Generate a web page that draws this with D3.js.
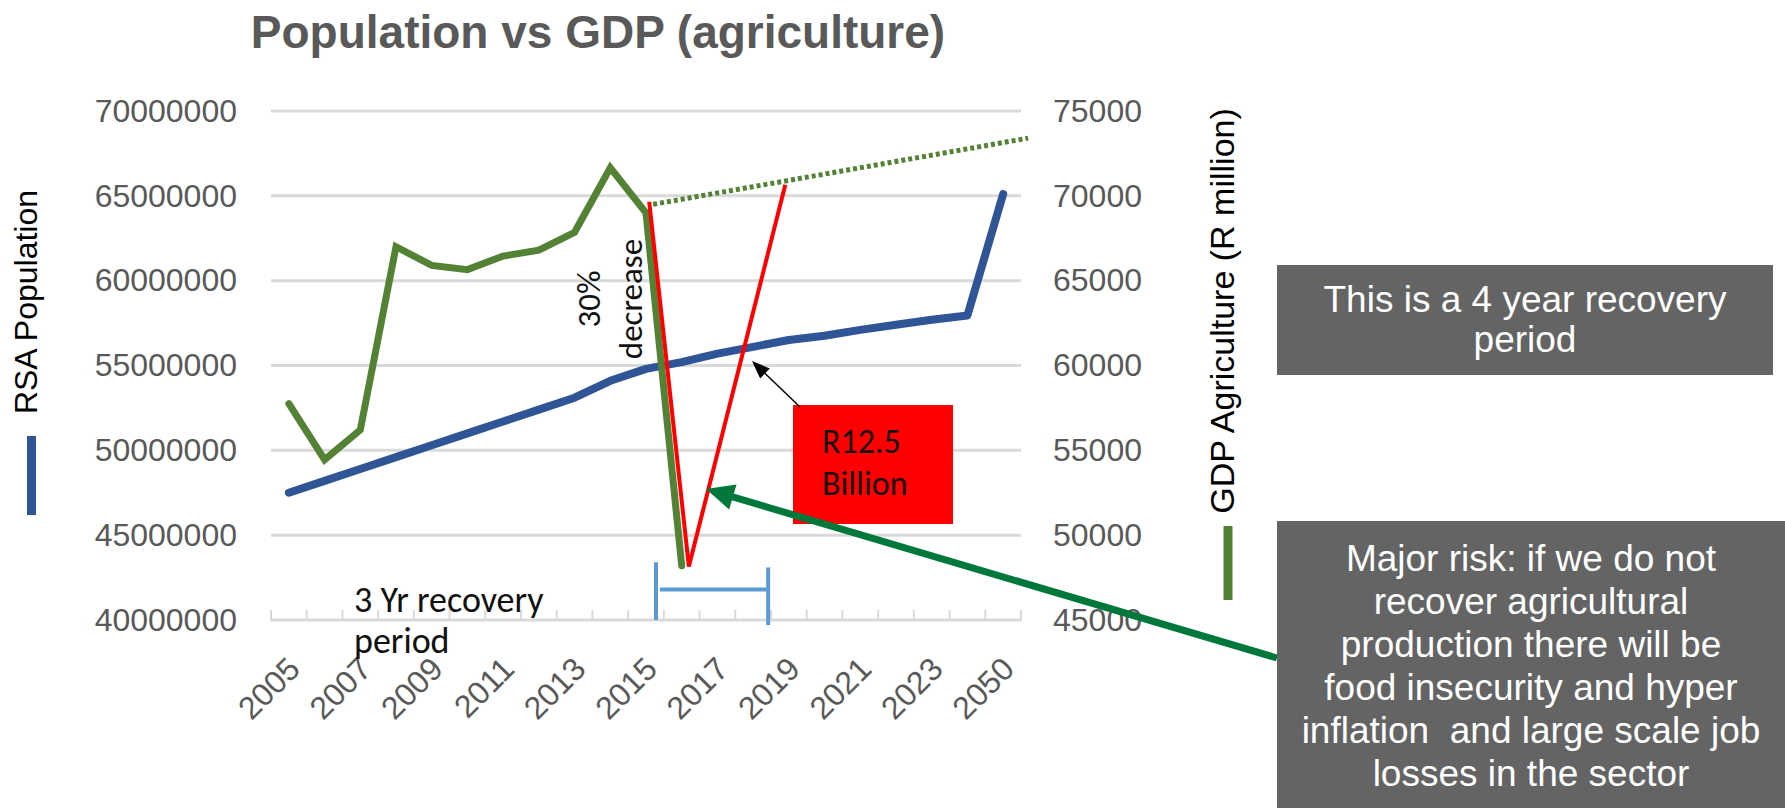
<!DOCTYPE html>
<html>
<head>
<meta charset="utf-8">
<script src="https://cdn.jsdelivr.net/npm/d3@7"></script>
<style>
  html, body { margin: 0; padding: 0; background: #ffffff; }
  svg { display: block; }
</style>
</head>
<body>
<svg id="chart" width="1785" height="808"></svg>
<script>
// ---------------- DATA ----------------
const categories = ["2005","2006","2007","2008","2009","2010","2011","2012","2013","2014",
                    "2015","2016","2017","2018","2019","2020","2021","2022","2023","2024","2050"];
const tickLabels = ["2005","2007","2009","2011","2013","2015","2017","2019","2021","2023","2050"];
const population = [47.5e6, 48.2e6, 48.9e6, 49.6e6, 50.3e6, 51.0e6, 51.7e6, 52.4e6, 53.1e6, 54.1e6,
                    54.8e6, 55.2e6, 55.7e6, 56.1e6, 56.5e6, 56.75e6, 57.1e6, 57.4e6, 57.7e6, 57.95e6, 65.1e6];
const gdpAgri = [57750, 54450, 56200, 67000, 65900, 65650, 66450, 66800, 67850, 71650,
                 69000, 48200, null, null, null, null, null, null, null, null, null];
const leftTicks = [40000000, 45000000, 50000000, 55000000, 60000000, 65000000, 70000000];
const rightTicks = [45000, 50000, 55000, 60000, 65000, 70000, 75000];
// annotation series (position in category index, value on GDP axis)
const recoveryIdx = [10.09, 11.2, 13.9];
const recoveryVal = [69650, 48150, 70650];
const trendIdx = [10.2, 20.7];
const trendVal = [69500, 73400];
const bracketIdx = [10.28, 13.42];
const bracketTop = [43.4e6, 43.1e6];
const bracketBottom = [40.0e6, 39.7e6];
const bracketMid = 41.8e6;

// ---------------- LAYOUT ----------------
const svg = d3.select("#chart");
const plot = { left: 271, right: 1021, top: 111, bottom: 620 };
const axisFont = "'Liberation Sans', Arial, sans-serif";
const noteFont = "Carlito, Calibri, Lato, sans-serif";
const gray = "#595959";

const xb = d3.scaleBand().domain(categories).range([plot.left, plot.right]);
const xi = d3.scaleLinear().domain([-0.5, categories.length - 0.5]).range([plot.left, plot.right]);
const yL = d3.scaleLinear().domain([40e6, 70e6]).range([plot.bottom, plot.top]);
const yR = d3.scaleLinear().domain([45000, 75000]).range([plot.bottom, plot.top]);
const cx = c => xb(c) + xb.bandwidth() / 2;

// title
svg.append("text").attr("x", 598).attr("y", 48).attr("text-anchor", "middle")
  .attr("font-family", axisFont).attr("font-weight", "bold").attr("font-size", 46)
  .attr("fill", gray).text("Population vs GDP (agriculture)");

// gridlines
svg.append("g").selectAll("line").data(leftTicks).join("line")
  .attr("x1", plot.left).attr("x2", plot.right)
  .attr("y1", d => yL(d)).attr("y2", d => yL(d))
  .attr("stroke", "#d9d9d9").attr("stroke-width", 3);

// x tick marks (between categories)
const tickPos = categories.map(c => xb(c)).concat([plot.right]);
svg.append("g").selectAll("line").data(tickPos).join("line")
  .attr("x1", d => d).attr("x2", d => d)
  .attr("y1", plot.bottom - 10).attr("y2", plot.bottom + 1)
  .attr("stroke", "#d9d9d9").attr("stroke-width", 2);

// left axis
const leftAxis = d3.axisLeft(yL).tickValues(leftTicks).tickSize(0).tickPadding(0).tickFormat(d3.format("d"));
const gL = svg.append("g").attr("transform", `translate(237,0)`).call(leftAxis);
gL.select(".domain").remove();
gL.selectAll("text").attr("font-family", axisFont).attr("font-size", 32).attr("fill", gray);

// right axis
const rightAxis = d3.axisRight(yR).tickValues(rightTicks).tickSize(0).tickPadding(0).tickFormat(d3.format("d"));
const gR = svg.append("g").attr("transform", `translate(1053,0)`).call(rightAxis);
gR.select(".domain").remove();
gR.selectAll("text").attr("font-family", axisFont).attr("font-size", 32).attr("fill", gray);

// x axis labels
const bottomAxis = d3.axisBottom(xb).tickValues(tickLabels).tickSize(0).tickPadding(0);
const gB = svg.append("g").attr("transform", `translate(0,${plot.bottom})`).call(bottomAxis);
gB.select(".domain").remove();
gB.selectAll(".tick text")
  .attr("font-family", axisFont).attr("font-size", 32).attr("fill", gray)
  .attr("text-anchor", "end").attr("dy", 0).attr("y", 0)
  .attr("transform", "translate(13,51) rotate(-45)");

// population line
const popLine = d3.line().x((d, i) => cx(categories[i])).y(d => yL(d));
svg.append("path").datum(population).attr("d", popLine)
  .attr("fill", "none").attr("stroke", "#2f5597").attr("stroke-width", 8)
  .attr("stroke-linecap", "round").attr("stroke-linejoin", "round");

// gdp line
const gdpLine = d3.line().defined(d => d != null).x((d, i) => cx(categories[i])).y(d => yR(d));
svg.append("path").datum(gdpAgri).attr("d", gdpLine)
  .attr("fill", "none").attr("stroke", "#548235").attr("stroke-width", 7)
  .attr("stroke-linecap", "round").attr("stroke-linejoin", "miter");

// trend (dotted)
const trendLine = d3.line().x((d, i) => xi(trendIdx[i])).y(d => yR(d));
svg.append("path").datum(trendVal).attr("d", trendLine)
  .attr("fill", "none").attr("stroke", "#548235").attr("stroke-width", 5)
  .attr("stroke-dasharray", "4,3");

// recovery V (red)
const recLine = d3.line().x((d, i) => xi(recoveryIdx[i])).y(d => yR(d));
svg.append("path").datum(recoveryVal).attr("d", recLine)
  .attr("fill", "none").attr("stroke", "#ff0000").attr("stroke-width", 4)
  .attr("stroke-linejoin", "miter");

// bracket (light blue)
const bg = svg.append("g").attr("stroke", "#5b9bd5").attr("stroke-width", 4);
bracketIdx.forEach((b, i) => {
  bg.append("line").attr("x1", xi(b)).attr("x2", xi(b))
    .attr("y1", yL(bracketTop[i])).attr("y2", yL(bracketBottom[i]));
});
bg.append("line").attr("x1", xi(bracketIdx[0]) + 4).attr("x2", xi(bracketIdx[1]) - 2)
  .attr("y1", yL(bracketMid)).attr("y2", yL(bracketMid));

// "30% decrease"
const dec = svg.append("text").attr("font-family", noteFont).attr("font-size", 33).attr("fill", "#111")
  .attr("text-anchor", "middle").attr("transform", "translate(0,299) rotate(-90)");
dec.append("tspan").attr("x", 0).attr("y", 600).text("30%");
dec.append("tspan").attr("x", 0).attr("y", 642).text("decrease");

// "3 Yr recovery period"
const rec = svg.append("text").attr("font-family", noteFont).attr("font-size", 36).attr("fill", "#111");
rec.append("tspan").attr("x", 354).attr("y", 612).text("3 Yr recovery");
rec.append("tspan").attr("x", 354).attr("y", 653).text("period");

// red box
svg.append("rect").attr("x", 793).attr("y", 405).attr("width", 160).attr("height", 119).attr("fill", "#ff0000");
const rb = svg.append("text").attr("font-family", noteFont).attr("font-size", 34).attr("fill", "#111");
rb.append("tspan").attr("x", 822).attr("y", 453).text("R12.5");
rb.append("tspan").attr("x", 822).attr("y", 495).text("Billion");

// arrow helper
function arrow(x1, y1, x2, y2, color, w, hl, hw) {
  const a = Math.atan2(y2 - y1, x2 - x1);
  const bx = x2 - hl * Math.cos(a), by = y2 - hl * Math.sin(a);
  svg.append("line").attr("x1", x1).attr("y1", y1).attr("x2", bx + 2 * Math.cos(a)).attr("y2", by + 2 * Math.sin(a))
    .attr("stroke", color).attr("stroke-width", w);
  const px = -Math.sin(a), py = Math.cos(a);
  svg.append("path")
    .attr("d", `M${x2},${y2} L${bx + hw * px},${by + hw * py} L${bx - hw * px},${by - hw * py} Z`)
    .attr("fill", color);
}
arrow(800, 407, 752, 361, "#000", 1.5, 18, 7);
arrow(1277, 658, 706, 489, "#00783c", 7, 28, 13);

// axis titles with legend keys
svg.append("text").attr("font-family", axisFont).attr("font-size", 32).attr("fill", "#000")
  .attr("text-anchor", "middle").attr("transform", "translate(37,302) rotate(-90)").text("RSA Population");
svg.append("line").attr("x1", 31.5).attr("x2", 31.5).attr("y1", 436).attr("y2", 515)
  .attr("stroke", "#2f5597").attr("stroke-width", 9);

svg.append("text").attr("font-family", axisFont).attr("font-size", 34).attr("fill", "#000")
  .attr("text-anchor", "middle").attr("transform", "translate(1234,311) rotate(-90)").text("GDP Agriculture (R million)");
svg.append("line").attr("x1", 1228).attr("x2", 1228).attr("y1", 526).attr("y2", 600)
  .attr("stroke", "#548235").attr("stroke-width", 9);

// gray boxes
function noteBox(x, y, w, h, lines, cxp, firstBase, lh) {
  svg.append("rect").attr("x", x).attr("y", y).attr("width", w).attr("height", h).attr("fill", "#646464");
  const t = svg.append("text").attr("font-family", axisFont).attr("font-size", 37).attr("fill", "#fff")
    .attr("text-anchor", "middle");
  lines.forEach((l, i) => t.append("tspan").attr("x", cxp).attr("y", firstBase + i * lh).text(l));
}
noteBox(1277, 265, 496, 110, ["This is a 4 year recovery", "period"], 1525, 312, 40);
noteBox(1277, 521, 508, 287, ["Major risk: if we do not", "recover agricultural", "production there will be",
  "food insecurity and hyper", "inflation  and large scale job", "losses in the sector"], 1531, 571, 43);
svg.selectAll("text").style("white-space", "pre");
</script>
</body>
</html>
